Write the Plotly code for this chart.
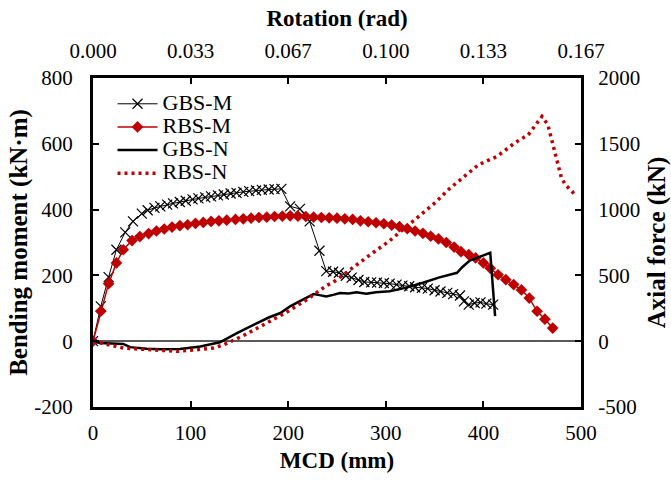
import plotly.graph_objects as go

# Bending moment vs MCD (left axis), kN·m
gbs_m_x = [0, 8, 16, 24, 33, 41, 50, 56, 63, 69, 76, 82, 89, 95, 102, 108, 115, 121,
           128, 134, 141, 147, 154, 160, 167, 173, 180, 186, 193, 202, 212, 222, 232,
           239, 246, 252, 259, 265, 272, 278, 285, 291, 298, 304, 311, 317, 324, 330,
           337, 343, 350, 356, 363, 369, 376, 380, 385, 391, 397, 403, 410]
gbs_m_y = [0, 106, 195, 278, 331, 364, 388, 398, 405, 410, 415, 419, 423, 427, 431, 434,
           437, 440, 443, 446, 449, 451, 454, 456, 458, 460, 461, 462, 463, 410, 402, 364,
           275, 213, 211, 208, 199, 193, 186, 180, 179, 178, 177, 175, 172, 169, 167, 164,
           162, 160, 155, 151, 147, 143, 139, 121, 111, 116, 118, 114, 111]

rbs_m_x = [0, 8, 16, 24, 31, 40, 48, 57, 65, 73, 81, 89, 97, 105, 113, 121, 129, 137,
           146, 154, 162, 170, 178, 186, 194, 202, 210, 218, 226, 234, 242, 250, 258,
           266, 274, 282, 290, 298, 306, 314, 322, 330, 338, 346, 354, 362, 370, 377,
           385, 392, 400, 407, 415, 423, 431, 439, 447, 455, 463, 471]
rbs_m_y = [0, 91, 175, 238, 278, 306, 318, 327, 335, 341, 347, 351, 354, 358, 361, 364,
           366, 368, 370, 372, 374, 376, 377, 379, 380, 381, 380, 379, 377, 376, 375,
           374, 372, 370, 366, 363, 360, 357, 353, 348, 342, 335, 328, 319, 311, 300,
           286, 272, 263, 253, 238, 222, 202, 187, 172, 156, 131, 91, 67, 40]

# Axial force vs MCD (right axis), kN
gbs_n_x = [0, 7, 20, 31, 38, 55, 70, 89, 110, 130, 147, 164, 180, 192, 202, 212, 226,
           232, 239, 246, 253, 262, 270, 280, 290, 304, 320, 338, 355, 373, 378, 386,
           395, 407, 412]
gbs_n_y = [0, -14, -18, -21, -45, -58, -62, -60, -40, -8, 60, 124, 180, 214, 265, 305,
           358, 350, 340, 352, 366, 362, 371, 361, 372, 380, 405, 444, 485, 520, 560,
           612, 640, 672, 190]

rbs_n_x = [0, 31, 55, 86, 106, 123, 134, 154, 178, 198, 219, 239, 246, 265, 284, 303,
           315, 333, 351, 364, 376, 395, 414, 432, 446, 455, 460, 466, 470, 472, 475,
           478, 480, 484, 489, 495]
rbs_n_y = [0, -52, -63, -77, -65, -52, -27, 42, 138, 219, 315, 422, 447, 556, 657, 758,
           834, 948, 1055, 1151, 1227, 1341, 1404, 1506, 1569, 1658, 1708, 1645, 1531,
           1468, 1366, 1290, 1240, 1189, 1151, 1106]

# Tick values / labels
mcd_ticks = [0, 100, 200, 300, 400, 500]
moment_ticks = [-200, 0, 200, 400, 600, 800]
force_ticks = [-500, 0, 500, 1000, 1500, 2000]
# Secondary (top) axis: rotation = MCD / 3000
rotation_ticks = [0.0, 0.033, 0.067, 0.100, 0.133, 0.167]
mcd_per_rad = 3000.0

FONT = "Liberation Serif"
RED = "#C00000"


def legend_name(text):
    return f"<span style='font-size:22px'>{text}</span>"


fig = go.Figure()

fig.add_trace(go.Scatter(
    x=gbs_m_x, y=gbs_m_y, name=legend_name("GBS-M"), mode="lines+markers",
    line=dict(color="black", width=1),
    marker=dict(symbol="x-thin", size=10, color="black",
                line=dict(color="black", width=1.2)),
    xaxis="x", yaxis="y"))

fig.add_trace(go.Scatter(
    x=rbs_m_x, y=rbs_m_y, name=legend_name("RBS-M"), mode="lines+markers",
    line=dict(color=RED, width=1.5),
    marker=dict(symbol="diamond", size=9, color=RED),
    xaxis="x", yaxis="y"))

fig.add_trace(go.Scatter(
    x=gbs_n_x, y=gbs_n_y, name=legend_name("GBS-N"), mode="lines",
    line=dict(color="black", width=2.5),
    xaxis="x", yaxis="y2"))

fig.add_trace(go.Scatter(
    x=rbs_n_x, y=rbs_n_y, name=legend_name("RBS-N"), mode="lines",
    line=dict(color=RED, width=3.5, dash="3px,4px"),
    xaxis="x", yaxis="y2"))

# invisible trace to activate the top rotation axis
fig.add_trace(go.Scatter(
    x=[v / mcd_per_rad for v in mcd_ticks], y=[0] * len(mcd_ticks),
    mode="lines", line=dict(width=0), opacity=0, showlegend=False,
    hoverinfo="skip", xaxis="x2", yaxis="y"))

tick_font = dict(family=FONT, size=21, color="black")
title_font = dict(family=FONT, size=23, color="black")
vtitle_font = dict(family=FONT, size=25, color="black")
axis_common = dict(showgrid=False, showline=True, linecolor="black", linewidth=3,
                   ticks="inside", ticklen=6, tickwidth=2, tickcolor="black",
                   tickfont=tick_font, automargin=False)

fig.update_layout(
    width=671, height=481,
    margin=dict(l=93, r=90, t=78, b=74),
    paper_bgcolor="white", plot_bgcolor="white",
    font=dict(family=FONT, color="black"),
    showlegend=True,
    legend=dict(x=0.04, y=0.972, xanchor="left", yanchor="top",
                bgcolor="rgba(0,0,0,0)", font=dict(family=FONT, size=15.5),
                tracegroupgap=0, itemwidth=40),
    xaxis=dict(range=[0, 500], tickvals=mcd_ticks,
               ticktext=[str(v) for v in mcd_ticks], ticklabelstandoff=5,
               title=dict(text="<b>MCD (mm)</b>", font=title_font, standoff=8),
               zeroline=False, **axis_common),
    xaxis2=dict(range=[0, 500 / mcd_per_rad], overlaying="x", side="top",
                tickvals=[v / mcd_per_rad for v in mcd_ticks],
                ticktext=[f"{r:.3f}" for r in rotation_ticks], ticklabelstandoff=9,
                title=dict(text="<b>Rotation (rad)</b>", font=title_font, standoff=6),
                zeroline=False, **axis_common),
    yaxis=dict(range=[-200, 800], tickvals=moment_ticks,
               ticktext=[str(v) for v in moment_ticks], ticklabelstandoff=13,
               title=dict(text="<b>Bending moment (kN·m)</b>", font=vtitle_font, standoff=0),
               zeroline=True, zerolinecolor="#595959", zerolinewidth=2,
               **axis_common),
    yaxis2=dict(range=[-500, 2000], tickvals=force_ticks, overlaying="y", side="right",
                ticktext=[str(v) for v in force_ticks], ticklabelstandoff=10,
                title=dict(text="<b>Axial force (kN)</b>", font=vtitle_font, standoff=10),
                zeroline=False, **axis_common),
)

fig.write_html("out.html")
